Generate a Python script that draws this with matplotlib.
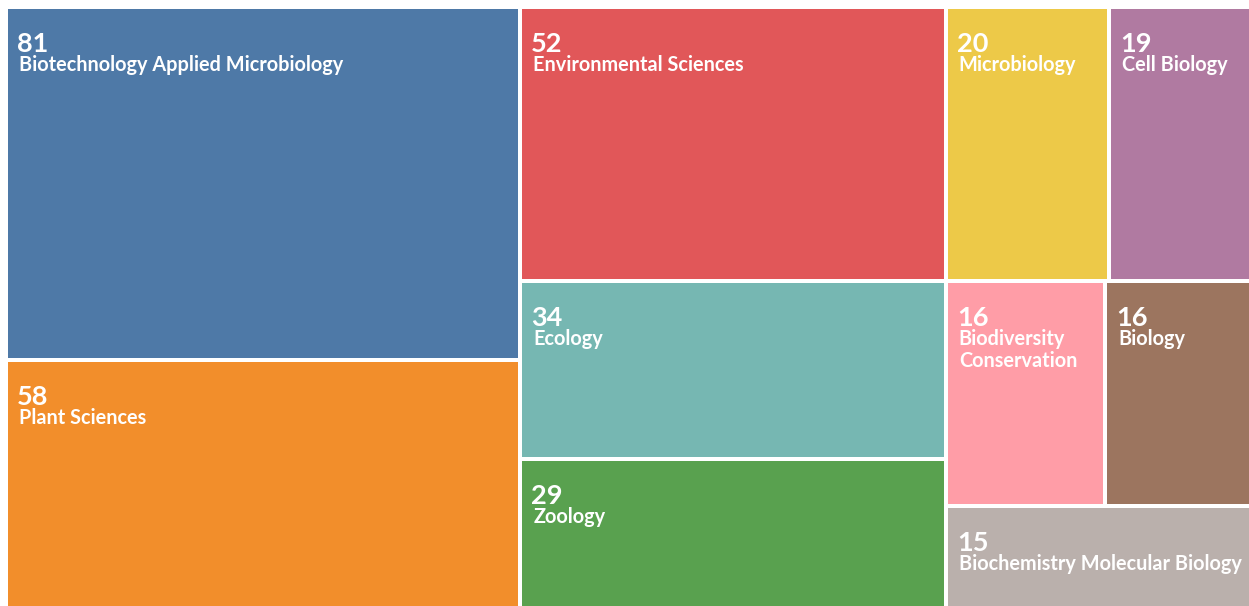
import matplotlib
matplotlib.use("Agg")
import matplotlib.pyplot as plt
from matplotlib.patches import Rectangle

categories = ["Biotechnology Applied Microbiology", "Plant Sciences", "Environmental Sciences",
              "Ecology", "Zoology", "Microbiology", "Cell Biology",
              "Biodiversity Conservation", "Biology", "Biochemistry Molecular Biology"]
values = [81, 58, 52, 34, 29, 20, 19, 16, 16, 15]
colors = ["#4e79a7", "#f28e2b", "#e15759", "#76b7b2", "#59a14f",
          "#edc948", "#b07aa1", "#ff9da7", "#9c755f", "#bab0ac"]

W, H = 1249, 606
PHI = (1 + 5 ** 0.5) / 2


def squarify(vals, x0, y0, x1, y1, ratio=PHI):
    rects = [None] * len(vals)
    n = len(vals)
    total = float(sum(vals))
    i0 = i1 = 0
    while i0 < n:
        dx, dy = x1 - x0, y1 - y0
        s = vals[i1]; i1 += 1
        mn = mx = s
        alpha = max(dy / dx, dx / dy) / (total * ratio)
        beta = s * s * alpha
        min_ratio = max(mx / beta, beta / mn)
        while i1 < n:
            v = vals[i1]
            s2 = s + v
            mn2, mx2 = min(mn, v), max(mx, v)
            beta = s2 * s2 * alpha
            nr = max(mx2 / beta, beta / mn2)
            if nr > min_ratio:
                break
            s, mn, mx, min_ratio = s2, mn2, mx2, nr
            i1 += 1
        row = list(range(i0, i1))
        if dx < dy:
            ny = y0 + dy * s / total
            cx = x0
            for k in row:
                w = (x1 - x0) * vals[k] / s
                rects[k] = (cx, y0, cx + w, ny)
                cx += w
            y0 = ny
        else:
            nx = x0 + dx * s / total
            cy = y0
            for k in row:
                h = (y1 - y0) * vals[k] / s
                rects[k] = (x0, cy, nx, cy + h)
                cy += h
            x0 = nx
        total -= s
        i0 = i1
    return rects


fig = plt.figure(figsize=(W / 100, H / 100), dpi=100)
ax = fig.add_axes([0, 0, 1, 1])
ax.set_xlim(0, W)
ax.set_ylim(H, 0)
ax.axis("off")

rects = squarify(values, 6, 7, 1264, 612)
pad = 2
FONT = "Lato"
LABEL_FS = 14.3
fig.canvas.draw()
renderer = fig.canvas.get_renderer()

for (xa, ya, xb, yb), v, name, c in zip(rects, values, categories, colors):
    ax.add_patch(Rectangle((xa + pad, ya + pad), (xb - xa) - 2 * pad, (yb - ya) - 2 * pad,
                           facecolor=c, edgecolor="none"))
    left = xa + pad
    top = ya + pad
    ax.text(left + 9, top + 43, str(v), color="white", fontsize=19.5, fontweight="bold",
            family=FONT, va="baseline", ha="left")
    avail = (xb - xa) - 2 * pad - 20
    words = name.split()
    lines, cur = [], ""
    for w_ in words:
        trial = (cur + " " + w_).strip()
        t = ax.text(0, 0, trial, fontsize=LABEL_FS, fontweight="bold", family=FONT)
        wpx = t.get_window_extent(renderer).width
        t.remove()
        if wpx > avail and cur:
            lines.append(cur)
            cur = w_
        else:
            cur = trial
    lines.append(cur)
    for li, ln in enumerate(lines):
        ax.text(left + 11, top + 62 + li * 21.5, ln, color="white", fontsize=LABEL_FS,
                fontweight="bold", family=FONT, va="baseline", ha="left")

fig.savefig("out.png", dpi=100, facecolor="white")
